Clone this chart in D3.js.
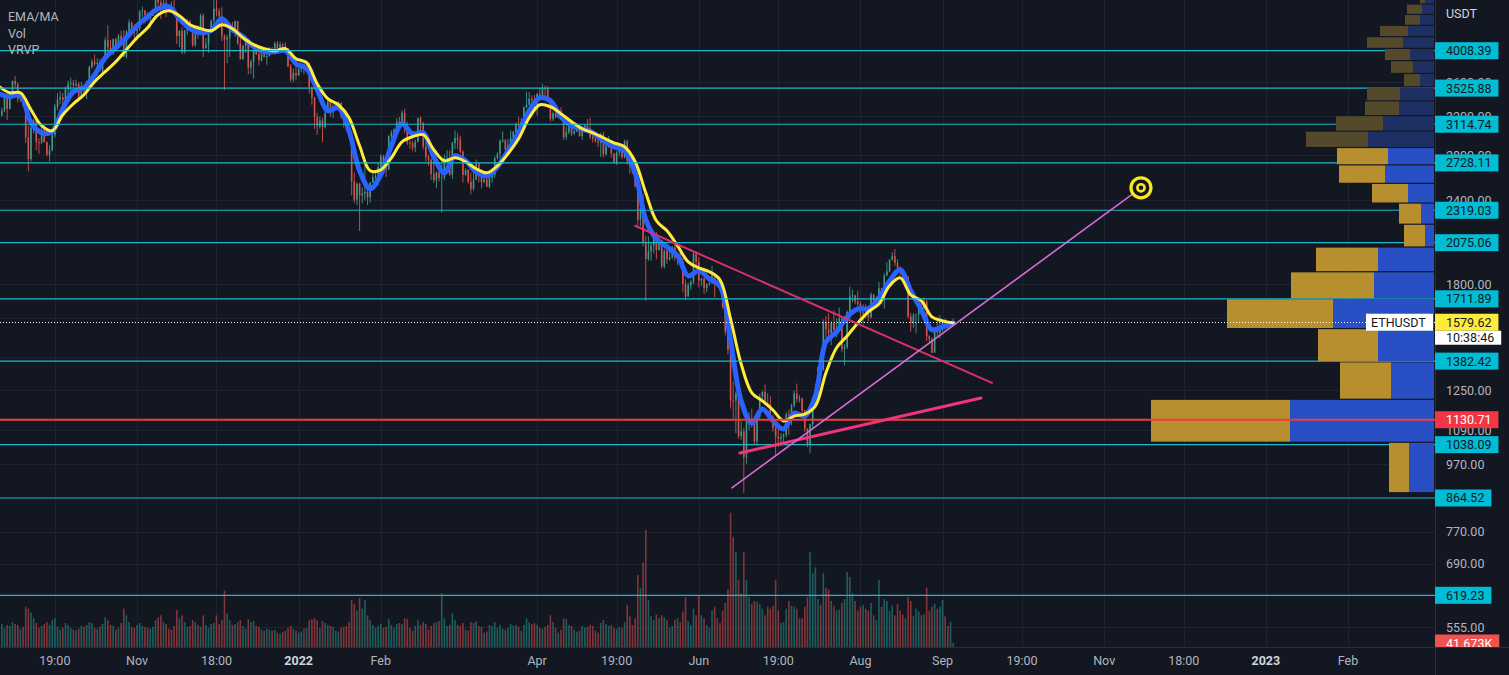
<!DOCTYPE html>
<html><head><meta charset="utf-8">
<script src="https://cdn.jsdelivr.net/npm/d3@7"></script>
<style>html,body{margin:0;padding:0;background:#131722;overflow:hidden}</style>
</head><body><svg id="c" width="1509" height="675"></svg>
<script>
// ---------------- DATA ----------------
const startDate = "2021-09-10";
const firstOpen = 3425;
const closes = [
3211,3265,3408,3285,3430,3612,3571,3398,3432,3330,2977,2764,3077,3155,2930,2925,3060,2930,2806,2850,3001,
3307,3391,3418,3384,3517,3576,3587,3560,3575,3415,3545,3492,3607,3787,3864,3829,3846,3745,3877,4155,4054,3972,4170,4083,4220,4130,3925,4284,4414,4322,4288,
4321,4587,4603,4532,4474,4517,4613,4808,4730,4632,4723,4667,4647,4626,4559,4216,4293,3986,4300,4435,4319,4087,4341,4268,4523,4041,4094,4294,4444,4631,
4587,4511,4223,4164,4194,4347,4306,4435,4110,3892,4075,4135,3782,3859,4015,3961,3880,3960,3923,3937,4018,3979,4108,4047,4093,4070,4037,3796,3630,3713,3682,
3767,3829,3762,3795,3537,3412,3193,3091,3156,3083,3239,3372,3250,3309,3330,3352,3211,3164,3096,3001,2558,2405,2539,2440,2456,2470,2424,2548,2598,2606,2688,
2790,2688,2666,2989,3024,3059,3143,3122,3240,3078,2925,2917,2875,2933,3180,3124,2885,2786,2760,2627,2570,2639,2590,2598,2777,2780,2620,2920,
2971,2950,2834,2618,2663,2556,2496,2576,2728,2607,2557,2577,2515,2591,2617,2773,2812,2944,2947,2862,2897,2971,3031,3109,3108,3145,3300,3330,3402,3384,3281,
3455,3444,3522,3521,3410,3170,3233,3189,3262,3209,2981,3029,3118,3018,3040,3061,2991,3058,3103,3077,2986,2964,2938,2923,3008,2809,2888,2936,2817,2729,
2826,2857,2782,2940,2748,2695,2636,2518,2245,2342,2079,1962,2013,2056,2145,2023,2090,1913,2018,1961,1975,2043,1972,1978,1944,1802,1725,1793,1813,1996,1942,
1823,1834,1775,1801,1806,1859,1813,1791,1790,1665,1529,1436,1208,1207,1236,1068,1086,994,1127,1128,1124,1050,1143,1225,1243,1199,1193,1143,1099,1067,
1059,1067,1074,1151,1134,1187,1237,1214,1216,1167,1097,1038,1113,1192,1232,1355,1340,1582,1541,1521,1578,1537,1550,1600,1440,1450,1636,1726,1732,1696,1680,
1632,1633,1619,1607,1736,1694,1701,1775,1701,1853,1880,1958,1982,1936,1903,1876,1831,1846,1611,1575,1618,1623,1662,1655,1696,1505,1490,1423,1551,1524,1553,
1586,1576,1556,1575,1579.62];
const highs = [
3510,3295,3440,3465,3440,3620,3677,3595,3460,3445,3330,3100,3105,3175,3160,2970,3100,3110,2935,2900,3050,
3340,3465,3490,3470,3545,3620,3653,3625,3630,3600,3600,3545,3620,3810,3895,3955,3905,3895,3895,4195,4375,4160,4180,4185,4245,4295,4300,4300,4460,4430,4385,
4395,4605,4665,4570,4570,4535,4630,4825,4868,4770,4780,4810,4705,4745,4775,4560,4300,4345,4300,4470,4455,4320,4378,4375,4553,4550,4185,4300,4460,4780,
4778,4635,4650,4240,4235,4365,4425,4445,4435,4220,4090,4140,4135,3890,4100,4105,3995,3990,4035,3975,4060,4060,4135,4145,4135,4120,4125,4045,3830,3770,3818,
3770,3850,3845,3880,3850,3540,3420,3240,3200,3185,3265,3410,3395,3340,3365,3372,3360,3205,3175,3165,3040,2640,2556,2550,2510,2725,2520,2556,2650,2640,2730,
2812,2805,2730,3000,3050,3070,3180,3195,3265,3285,3140,2990,2945,2960,3185,3200,3140,2930,2807,2770,2750,2650,2740,2740,2810,2850,2845,2935,
3050,3025,2990,2850,2680,2670,2640,2695,2760,2730,2670,2615,2590,2650,2660,2790,2830,2955,3040,2960,2960,3050,3045,3135,3195,3180,3310,3480,3480,3440,3445,
3470,3530,3580,3555,3550,3410,3255,3300,3270,3300,3210,3090,3140,3125,3060,3080,3065,3072,3120,3170,3185,3010,2975,2960,3025,3035,2920,2990,2950,2820,
2840,2880,2865,2955,2955,2760,2700,2650,2520,2460,2455,2125,2120,2070,2150,2150,2110,2095,2030,2052,2010,2050,2085,2005,2010,1970,1830,1810,1825,2010,2014,
1973,1840,1840,1805,1820,1915,1865,1830,1815,1795,1670,1530,1460,1290,1245,1240,1125,1100,1140,1160,1175,1130,1160,1235,1249,1275,1238,1225,1150,1108,
1095,1080,1080,1160,1170,1195,1250,1280,1230,1220,1170,1098,1115,1200,1280,1358,1410,1595,1615,1630,1585,1645,1600,1660,1610,1465,1645,1785,1765,1735,1760,
1697,1680,1680,1665,1750,1740,1725,1815,1770,1870,1940,1960,2010,2030,1960,1915,1885,1862,1850,1630,1630,1625,1675,1700,1720,1705,1510,1500,1555,1610,1618,
1590,1600,1581,1580,1600];
const lows = [
3111,3197,3246,3162,3275,3425,3521,3355,3360,3307,2920,2650,2740,3020,2850,2814,2910,2925,2790,2740,2838,
2975,3270,3335,3280,3367,3400,3475,3525,3540,3405,3400,3430,3395,3585,3770,3800,3680,3730,3695,3855,3975,3950,3950,4050,4075,4105,3925,3900,4245,4255,4145,
4165,4290,4495,4400,4435,4330,4515,4605,4670,4470,4580,4500,4575,4575,4533,4100,4060,3960,3970,4232,4310,4060,4060,4175,4254,3920,4035,3980,4260,4300,
4510,4470,4143,3500,3840,3920,4260,4205,4090,3890,3890,3980,3700,3700,3641,3950,3810,3860,3915,3820,3930,3970,3955,4045,4035,4023,4030,3790,3600,3597,3620,
3677,3722,3695,3725,3460,3330,3065,3005,3070,2930,3070,3237,3200,3180,3290,3270,3175,3080,3040,2980,2440,2380,2360,2160,2375,2400,2360,2380,2552,2575,2525,
2650,2670,2600,2660,2960,2960,3000,3050,3102,3020,2900,2860,2840,2830,2925,3040,2855,2740,2700,2575,2550,2500,2560,2300,2571,2745,2610,2580,
2860,2860,2820,2550,2610,2540,2450,2480,2575,2550,2500,2542,2510,2500,2550,2590,2760,2760,2925,2845,2835,2890,2935,2990,3050,3085,3125,3290,3320,3325,3250,
3210,3400,3410,3410,3393,3145,3150,3185,3180,3200,2950,2955,3010,2990,3000,3030,2985,2950,3030,3045,2960,2925,2925,2880,2785,2780,2795,2870,2780,2720,
2710,2790,2765,2770,2710,2630,2630,2510,2200,2195,2050,1700,1950,1950,2000,1960,2020,1900,1900,1930,1950,1960,1950,1920,1935,1750,1705,1735,1765,1800,1920,
1780,1790,1740,1750,1790,1804,1720,1780,1775,1655,1510,1415,1175,1135,1080,1060,1055,880,972,1090,1100,1040,1040,1133,1200,1190,1180,1140,1086,1000,
1030,1033,1040,1064,1074,1110,1180,1200,1200,1150,1085,1030,1007,1100,1180,1224,1330,1340,1500,1500,1460,1510,1500,1530,1425,1362,1440,1598,1690,1680,1670,
1605,1568,1600,1585,1600,1690,1680,1697,1680,1655,1850,1875,1950,1915,1885,1850,1825,1830,1600,1530,1550,1520,1580,1635,1650,1480,1475,1420,1422,1505,1495,
1530,1540,1543,1550,1570];
const volumesK = [
350,240,200,230,220,260,240,230,190,210,420,400,360,300,250,200,220,240,260,230,280,
300,210,180,200,250,230,200,180,170,190,220,210,230,260,250,200,190,210,240,310,280,230,220,180,200,250,400,330,260,210,200,
230,250,220,210,200,190,210,280,310,330,260,240,190,180,220,385,300,330,260,210,220,280,260,230,210,330,230,200,240,250,
330,240,280,590,350,280,230,240,260,280,220,190,290,260,270,220,210,180,170,190,180,170,180,150,140,160,170,200,220,190,170,
150,160,190,200,280,290,300,280,200,270,250,230,220,210,170,160,200,210,220,260,490,450,380,510,400,490,330,280,230,200,220,
240,200,210,290,230,200,240,250,240,300,290,200,170,220,280,230,260,240,180,220,250,260,270,560,300,220,230,350,
280,230,220,250,180,170,260,250,270,220,210,150,160,230,220,260,200,230,190,180,200,240,220,230,210,170,230,300,260,240,250,
230,200,190,210,230,330,260,200,150,180,300,290,230,220,180,160,170,220,200,210,230,220,170,150,250,280,240,220,230,200,
190,210,200,260,440,320,230,300,750,620,880,1220,490,320,280,340,300,330,310,280,200,220,280,300,260,370,520,270,230,400,330,
540,330,300,230,200,380,420,300,250,380,460,600,1400,1150,990,700,560,990,700,520,450,480,470,450,400,330,420,400,430,700,
380,250,260,400,480,430,420,400,300,300,420,520,990,770,830,500,440,770,620,600,480,430,380,390,460,500,780,730,560,480,380,
420,440,400,380,460,330,280,700,420,500,480,380,430,330,450,380,340,300,520,480,320,400,370,330,340,620,380,420,450,400,420,
490,320,220,260,41.673];
// EMA (blue) and MA (yellow), one value every 4 days from startDate
const lineStepDays = 4;
const emaValues = [3458,3423,3447,3131,3025,3036,3285,3482,3530,3691,3913,4050,4191,4367,4504,4630,4662,4474,4323,4264,
4293,4474,4308,4206,4064,3995,3995,4008,3834,3768,3506,3262,3296,3046,2655,2496,2619,2893,3120,3015,
3025,2786,2637,2796,2748,2646,2610,2692,2844,3025,3262,3411,3376,3196,3099,3067,3025,2943,2883,2844,
2637,2244,2103,2046,1984,1852,1884,1833,1790,1482,1206,1118,1173,1126,1095,1157,1145,1227,1477,1528,
1609,1654,1654,1717,1820,1891,1759,1648,1539,1555,1576];
const maValues = [3543,3470,3470,3274,3099,3046,3218,3342,3447,3604,3730,3860,4022,4191,4338,4535,4598,4520,4382,4323,
4293,4382,4323,4191,4092,4036,4008,4036,3900,3847,3579,3400,3330,3185,2893,2655,2664,2776,2933,2984,
3005,2854,2748,2776,2739,2674,2637,2701,2815,2964,3185,3330,3308,3229,3142,3067,3025,2974,2923,2883,
2739,2462,2237,2161,2053,1943,1904,1878,1827,1598,1369,1240,1206,1169,1126,1145,1153,1185,1328,1447,
1507,1576,1637,1682,1790,1839,1735,1700,1609,1587,1576];
// price axis
const priceTicks = [3600,3200,2800,2400,1800,1600,1400,1250,1090,970,770,690,555];
const levelPrices = [4008.39,3525.88,3114.74,2728.11,2319.03,2075.06,1711.89,1382.42,1038.09,864.52,619.23];
const redLevel = 1130.71;
const lastPrice = 1579.62;
const lastVolumeLabel = "41.673K";
const countdown = "10:38:46";
// time axis
const timeTickDates = ["2021-10-01","2021-11-01","2021-12-01","2022-01-01","2022-02-01","2022-04-01","2022-05-01","2022-06-01","2022-07-01","2022-08-01","2022-09-01","2022-10-01","2022-11-01","2022-12-01","2023-01-01","2023-02-01"];
const timeTickLabels = ["19:00","Nov","18:00","2022","Feb","Apr","19:00","Jun","19:00","Aug","Sep","19:00","Nov","18:00","2023","Feb"];
// visible range volume profile: 24 rows from 880 in steps of 166.25
const profileLow = 880, profileStep = 166.25;
const profileUp = [250,1440,430,560,1010,600,560,90,130,260,490,460,660,510,350,340,140,210,240,310,260,140,120,90];
const profileDown = [200,1390,510,600,1060,830,620,210,220,360,460,510,620,470,340,330,160,220,250,360,280,150,150,50];
const valueAreaRows = [0,11];
// trend lines
const trendStartDates = ["2022-05-08T00:00","2022-06-16T13:00","2022-06-13T12:00"];
const trendStartPrices = [2199,1009,895];
const trendEndDates = ["2022-09-19T15:00","2022-09-15T12:00","2022-11-14T21:00"];
const trendEndPrices = [1283,1218,2505];
const legendItems = ["EMA/MA","Vol","VRVP"];

// ---------------- DRAW ----------------
const W=1509,H=675,plotR=1435,plotB=647;
const FONT="Roboto, 'Liberation Sans', Arial, sans-serif";
const BG="#131722";
const svg=d3.select("#c");
svg.append("rect").attr("width",W).attr("height",H).attr("fill",BG);
svg.append("defs").append("clipPath").attr("id","plotclip").append("rect").attr("x",0).attr("y",0).attr("width",plotR).attr("height",plotB);

const parseDay=d3.utcParse("%Y-%m-%d");
const parseDT=d3.utcParse("%Y-%m-%dT%H:%M");
const t0=parseDay(startDate);
const dayDate=i=>d3.utcDay.offset(t0,i);
const x=d3.scaleUtc().domain([parseDay("2021-11-01"),parseDay("2023-02-01")]).range([137,1348]);
const y=d3.scaleLog().domain([4008.39,619.23]).range([50.7,595.3]);
const vY=d3.scaleLinear().domain([0,1700]).range([plotB,plotB-163]);

const plot=svg.append("g").attr("clip-path","url(#plotclip)");
// grid
const grid=plot.append("g").attr("stroke","#1f2330").attr("stroke-width",1);
timeTickDates.forEach(d=>{const xx=Math.round(x(parseDay(d)))+0.5;grid.append("line").attr("x1",xx).attr("x2",xx).attr("y1",0).attr("y2",plotB);});
priceTicks.forEach(p=>{const yy=Math.round(y(p))+0.5;grid.append("line").attr("x1",0).attr("x2",plotR).attr("y1",yy).attr("y2",yy);});

const n=Math.min(closes.length,highs.length,lows.length,volumesK.length);
const bars=d3.range(n).map(i=>{
  const o=i===0?firstOpen:closes[i-1], c=closes[i];
  return {i,o,c,h:Math.max(highs[i],o,c),l:Math.min(lows[i],o,c),v:volumesK[i],up:c>=o,x:x(dayDate(i))};
});
// volume
plot.append("g").selectAll("rect").data(bars).join("rect")
  .attr("x",d=>d.x-0.8).attr("width",1.6)
  .attr("y",d=>vY(d.v)).attr("height",d=>plotB-vY(d.v))
  .attr("fill",d=>d.up?"#26a69a":"#ef5350").attr("opacity",0.5);
// candles
const cg=plot.append("g");
cg.selectAll("line").data(bars).join("line")
  .attr("x1",d=>d.x).attr("x2",d=>d.x).attr("y1",d=>y(d.h)).attr("y2",d=>y(d.l))
  .attr("stroke",d=>d.up?"#3f9e90":"#d9574f").attr("stroke-width",1).attr("opacity",0.85);
cg.selectAll("rect").data(bars).join("rect")
  .attr("x",d=>d.x-0.8).attr("width",1.6)
  .attr("y",d=>y(Math.max(d.o,d.c))).attr("height",d=>Math.max(1,Math.abs(y(d.o)-y(d.c))))
  .attr("fill",d=>d.up?"#3f9e90":"#d9574f").attr("opacity",0.9);
// EMA / MA
const lineGen=d3.line().x((d,k)=>x(dayDate(k*lineStepDays))).y(d=>y(d)).curve(d3.curveCatmullRom.alpha(0.5));
plot.append("path").attr("d",lineGen(emaValues)).attr("fill","none").attr("stroke","#2962ff").attr("stroke-width",5).attr("stroke-linejoin","round").attr("stroke-linecap","round");
plot.append("path").attr("d",lineGen(maValues)).attr("fill","none").attr("stroke","#ffeb3b").attr("stroke-width",3).attr("stroke-linejoin","round").attr("stroke-linecap","round");
// cyan levels
levelPrices.forEach(p=>{const yy=y(p);plot.append("line").attr("x1",0).attr("x2",plotR).attr("y1",yy).attr("y2",yy).attr("stroke","#1fb8ca").attr("stroke-width",1.2);});
// VRVP
const vpMax=d3.max(profileUp.map((u,k)=>u+profileDown[k]));
const vpX=d3.scaleLinear().domain([0,vpMax]).range([0,283]);
const vpRight=1434;
const vp=plot.append("g");
profileUp.forEach((u,k)=>{
  const lo=profileLow+k*profileStep, hi=lo+profileStep;
  const y0=y(hi), y1=y(lo);
  const inVA=k>=valueAreaRows[0]&&k<=valueAreaRows[1];
  const wu=vpX(u), wd=vpX(profileDown[k]);
  vp.append("rect").attr("x",vpRight-wu).attr("y",y0+0.5).attr("width",wu).attr("height",Math.max(0,y1-y0-1.2)).attr("fill",inVA?"#2850c4":"#1e2f63");
  vp.append("rect").attr("x",vpRight-wu-wd).attr("y",y0+0.5).attr("width",wd).attr("height",Math.max(0,y1-y0-1.2)).attr("fill",inVA?"#b78f2e":"#544a2b");
});
// red level and last price line
plot.append("line").attr("x1",0).attr("x2",plotR).attr("y1",y(redLevel)).attr("y2",y(redLevel)).attr("stroke","#f23b3b").attr("stroke-width",2);
plot.append("line").attr("x1",0).attr("x2",plotR).attr("y1",Math.round(y(lastPrice))+0.5).attr("y2",Math.round(y(lastPrice))+0.5).attr("stroke","#ffffff").attr("stroke-width",1).attr("stroke-dasharray","1,2");
// trend lines
const trendColors=["#d9306b","#f0357a","#d76bd6"];
const trendWidths=[2,3,1.6];
trendStartDates.forEach((d,k)=>{
  plot.append("line").attr("x1",x(parseDT(d))).attr("y1",y(trendStartPrices[k]))
    .attr("x2",x(parseDT(trendEndDates[k]))).attr("y2",y(trendEndPrices[k]))
    .attr("stroke",trendColors[k]).attr("stroke-width",trendWidths[k]).attr("stroke-linecap","round");
});
const tx=x(parseDT(trendEndDates[2])), ty=y(trendEndPrices[2]);
plot.append("circle").attr("cx",tx).attr("cy",ty).attr("r",10).attr("fill",BG).attr("stroke","#f7e81f").attr("stroke-width",3.2);
plot.append("circle").attr("cx",tx).attr("cy",ty).attr("r",3.6).attr("fill",BG).attr("stroke","#f7e81f").attr("stroke-width",2.6);
// legend
legendItems.forEach((t,k)=>svg.append("text").attr("x",8).attr("y",17+k*16.5).attr("dy","0.35em").attr("font-family",FONT).attr("font-size",12.5).attr("fill","#b2b5be").text(t));

// price axis
svg.append("line").attr("x1",plotR+0.5).attr("x2",plotR+0.5).attr("y1",0).attr("y2",H).attr("stroke","#2a2e39");
svg.append("text").attr("x",1446).attr("y",14).attr("dy","0.35em").attr("font-family",FONT).attr("font-size",12.5).attr("fill","#d1d4dc").text("USDT");
priceTicks.forEach(p=>svg.append("text").attr("x",1446).attr("y",y(p)).attr("dy","0.36em").attr("font-family",FONT).attr("font-size",12.5).attr("fill","#b2b5be").text(p.toFixed(2)));
function priceLabel(yy,text,bg,fg,xl,h){
  const g=svg.append("g");
  const t=g.append("text").attr("x",(xl||1435)+11).attr("y",yy).attr("dy","0.36em").attr("font-family",FONT).attr("font-size",12.5).attr("fill",fg).text(text);
  const tw=t.node().getComputedTextLength();
  g.insert("rect","text").attr("x",xl||1435).attr("y",yy-(h||17)/2).attr("width",tw+18).attr("height",h||17).attr("fill",bg);
  return g;
}
levelPrices.forEach(p=>priceLabel(y(p),p.toFixed(2),"#00bcd4","#131722"));
priceLabel(y(redLevel),redLevel.toFixed(2),"#f23645","#ffffff");
// volume label
priceLabel(vY(volumesK[n-1]),lastVolumeLabel,"#ef5350","#ffffff");
// last price labels
const ly=y(lastPrice);
priceLabel(ly,lastPrice.toFixed(2),"#ffeb3b","#131722");
priceLabel(ly+15.5,countdown,"#ffffff","#131722",1435,14);
const sym=svg.append("g");
sym.append("rect").attr("x",1366).attr("y",ly-8.5).attr("width",67).attr("height",17).attr("fill","#ffffff");
sym.append("text").attr("x",1371).attr("y",ly).attr("dy","0.36em").attr("font-family",FONT).attr("font-size",12.5).attr("fill","#131722").text("ETHUSDT");

// time axis
svg.append("rect").attr("x",0).attr("y",plotB).attr("width",W).attr("height",H-plotB).attr("fill",BG);
svg.append("line").attr("x1",0).attr("x2",W).attr("y1",plotB+0.5).attr("y2",plotB+0.5).attr("stroke","#2a2e39");
svg.append("line").attr("x1",plotR+0.5).attr("x2",plotR+0.5).attr("y1",plotB).attr("y2",H).attr("stroke","#2a2e39");
timeTickDates.forEach((d,k)=>{
  const bold=/^\d{4}$/.test(timeTickLabels[k]);
  svg.append("text").attr("x",x(parseDay(d))).attr("y",661).attr("dy","0.35em").attr("text-anchor","middle")
    .attr("font-family",FONT).attr("font-size",12.5).attr("font-weight",bold?"bold":"normal")
    .attr("fill",bold?"#d1d4dc":"#b2b5be").text(timeTickLabels[k]);
});
</script>
</body></html>
